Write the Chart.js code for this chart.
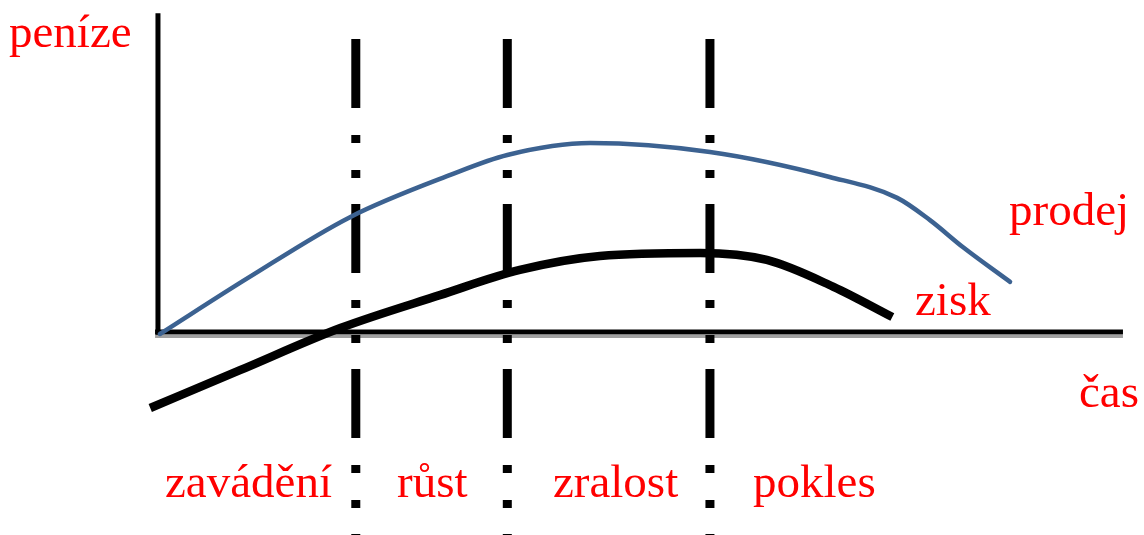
<!DOCTYPE html>
<html>
<head>
<meta charset="utf-8">
<script src="https://cdn.jsdelivr.net/npm/chart.js@4.4.0/dist/chart.umd.min.js"></script>
<style>
  body { margin: 0; background: #fff; }
  #box { width: 1144px; height: 535px; }
</style>
</head>
<body>
<div id="box"><canvas id="myChart"></canvas></div>
<script>
// data (cas = time, penize = money)
const casProdej = [0.2, 9.5, 19.9, 30.3, 36.2, 44.8, 57.2, 69.6, 76.6, 80.0, 83.4, 88.3];
const penizeProdej = [-0.6, 16.6, 34.6, 47.3, 53.3, 56.9, 54.2, 46.7, 40.4, 33.7, 25.6, 15.1];
const casZisk = [-0.8, 8.5, 18.9, 29.2, 37.5, 45.8, 56.2, 63.1, 70.0, 76.1];
const penizeZisk = [-22.9, -11.5, 1.2, 11.1, 18.7, 22.9, 23.8, 21.7, 13.6, 4.5];
const hraniceFazi = [20.5, 36.2, 57.2];
const nazvyFazi = ['zavádění', 'růst', 'zralost', 'pokles'];
const popisky = ['peníze', 'prodej', 'zisk', 'čas'];

function body(xs, ys) {
  return xs.map((x, i) => ({ x: x, y: ys[i] }));
}

let datasets = [];

//prodej curve (on top)
datasets.push({
  data: body(casProdej, penizeProdej),
  borderColor: '#3c6291',
  borderWidth: 4.5,
  borderCapStyle: 'round',
  cubicInterpolationMode: 'monotone',
  pointRadius: 0,
  clip: false
});

//zisk curve
datasets.push({
  data: body(casZisk, penizeZisk),
  borderColor: '#000000',
  borderWidth: 8.5,
  borderCapStyle: 'butt',
  cubicInterpolationMode: 'monotone',
  pointRadius: 0,
  clip: false
});

//phase boundaries, dash dot dot
hraniceFazi.forEach(function (h) {
  datasets.push({
    data: [{ x: h, y: 88.25 }, { x: h, y: -62 }],
    borderColor: '#000000',
    borderWidth: 9,
    borderCapStyle: 'butt',
    borderDash: [69, 27, 8, 27, 8, 26],
    pointRadius: 0,
    clip: false
  });
});

//axes
datasets.push({
  data: [{ x: -0.3, y: 0 }, { x: 100, y: 0 }],
  borderColor: '#000000',
  borderWidth: 5,
  pointRadius: 0,
  clip: false
});
datasets.push({
  data: [{ x: 0, y: 96 }, { x: 0, y: -0.8 }],
  borderColor: '#000000',
  borderWidth: 5,
  pointRadius: 0,
  clip: false
});
datasets.push({
  data: [{ x: -0.3, y: -1.36 }, { x: 100, y: -1.36 }],
  borderColor: '#a0a0a0',
  borderWidth: 3,
  pointRadius: 0,
  clip: false
});

//texts in red
const textPlugin = {
  id: 'texty',
  afterDatasetsDraw(chart) {
    let ctx = chart.ctx;
    let sx = chart.scales.x, sy = chart.scales.y;
    ctx.save();
    ctx.fillStyle = '#ff0000';
    ctx.font = '47px "Liberation Serif", "Times New Roman", serif';
    ctx.textAlign = 'left';
    ctx.textBaseline = 'alphabetic';
    let mista = [[-15.44, 85.8], [88.2, 32.2], [78.45, 5.1], [95.44, -22.6]];
    popisky.forEach(function (t, i) {
      ctx.fillText(t, sx.getPixelForValue(mista[i][0]), sy.getPixelForValue(mista[i][1]));
    });
    let fazeX = [0.73, 24.77, 40.93, 61.66];
    nazvyFazi.forEach(function (t, i) {
      ctx.fillText(t, sx.getPixelForValue(fazeX[i]), sy.getPixelForValue(-49.7));
    });
    ctx.restore();
  }
};

new Chart(document.getElementById('myChart'), {
  type: 'line',
  data: { datasets: datasets },
  plugins: [textPlugin],
  options: {
    responsive: true,
    maintainAspectRatio: false,
    animation: false,
    layout: { padding: 0 },
    scales: {
      x: { type: 'linear', min: -16.37, max: 102.18, display: false },
      y: { type: 'linear', min: -61.14, max: 100, display: false }
    },
    plugins: {
      legend: { display: false },
      tooltip: { enabled: false }
    }
  }
});
</script>
</body>
</html>
